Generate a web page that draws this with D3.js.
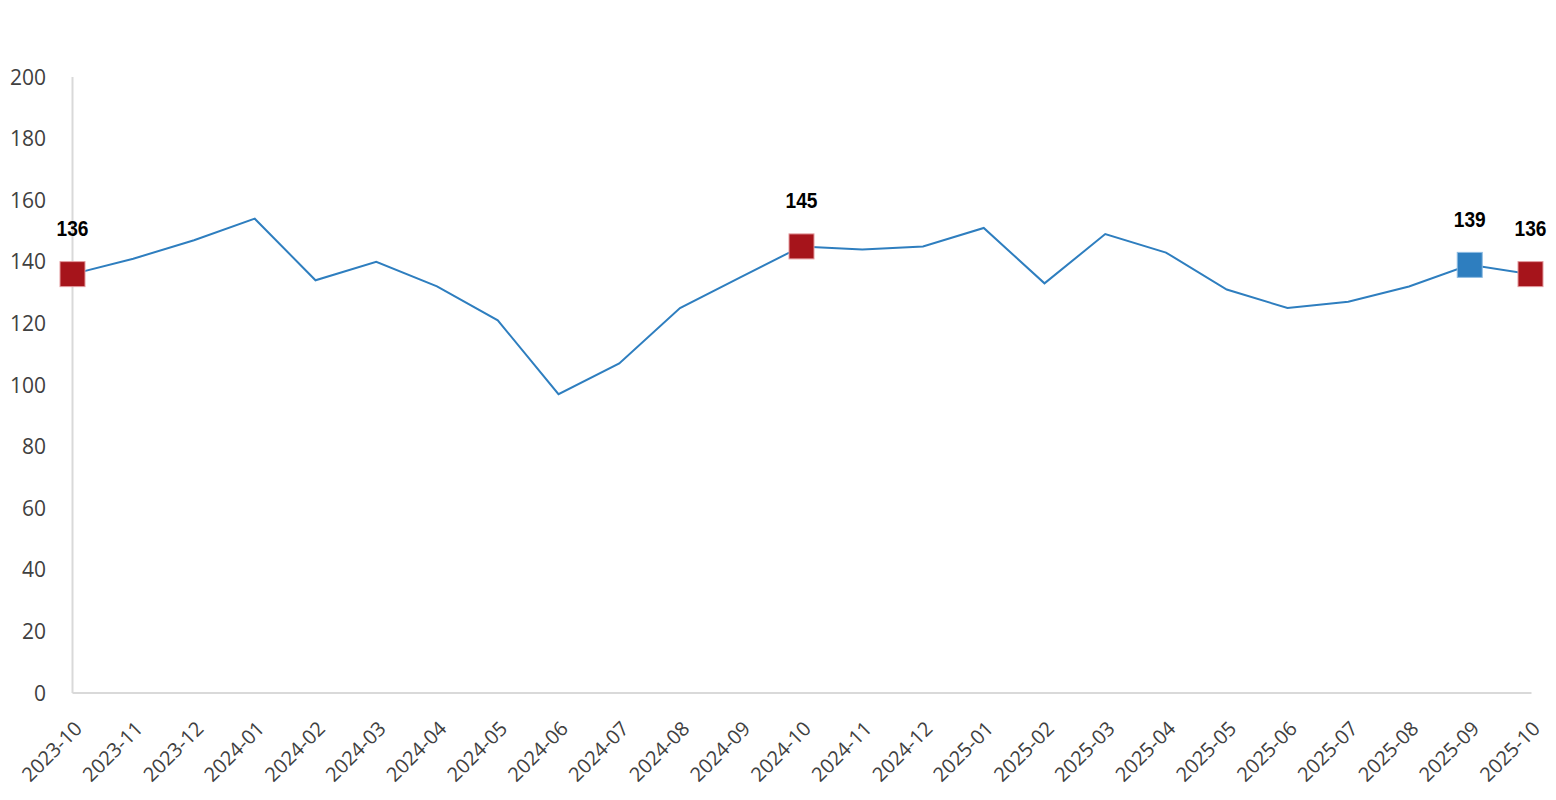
<!DOCTYPE html>
<html>
<head>
<meta charset="utf-8">
<script src="https://cdn.jsdelivr.net/npm/d3@7"></script>
<style>
  html, body { margin: 0; padding: 0; background: #fff; }
  svg { display: block; }
</style>
</head>
<body>
<svg id="chart" width="1556" height="800"></svg>
<script>
const categories = ["2023-10","2023-11","2023-12","2024-01","2024-02","2024-03","2024-04","2024-05","2024-06","2024-07","2024-08","2024-09","2024-10","2024-11","2024-12","2025-01","2025-02","2025-03","2025-04","2025-05","2025-06","2025-07","2025-08","2025-09","2025-10"];
const values = [136,141,147,154,134,140,132,121,97,107,125,135,145,144,145,151,133,149,143,131,125,127,132,139,136];
const yTicks = [0,20,40,60,80,100,120,140,160,180,200];
const highlights = [
  {cat: "2023-10", kind: "red"},
  {cat: "2024-10", kind: "red"},
  {cat: "2025-09", kind: "blue"},
  {cat: "2025-10", kind: "red"}
];

(function () {
const svg = d3.select("#chart");
const pLeft = 72.5, pRight = 1530.5, pTop = 77, pBottom = 693;

const x = d3.scalePoint().domain(categories).range([pLeft, pRight]).padding(0);
const y = d3.scaleLinear().domain([0, 200]).range([pBottom, pTop]);

// axes lines
svg.append("line").attr("x1", pLeft).attr("x2", pLeft).attr("y1", pTop).attr("y2", pBottom)
  .attr("stroke", "#d9d9d9").attr("stroke-width", 2);
svg.append("line").attr("x1", pLeft).attr("x2", pRight + 1).attr("y1", pBottom).attr("y2", pBottom)
  .attr("stroke", "#d9d9d9").attr("stroke-width", 2);

// y tick labels
svg.append("g").selectAll("text").data(yTicks).join("text")
  .attr("x", 46).attr("y", d => y(d)).attr("dy", "0.36em")
  .attr("text-anchor", "end")
  .attr("font-family", "'Open Sans', sans-serif").attr("font-size", 21)
  .attr("fill", "#404040").text(d => d);

// x tick labels
svg.append("g").selectAll("text").data(categories).join("text")
  .attr("transform", d => `translate(${x(d) + 1},${pBottom + 27}) rotate(-45)`)
  .attr("text-anchor", "end").attr("dy", "0.7em")
  .attr("font-family", "'Open Sans', sans-serif").attr("font-size", 20)
  .attr("fill", "#404040").text(d => d);

// line
const line = d3.line().x((d, i) => x(categories[i])).y(d => y(d));
svg.append("path").datum(values).attr("d", line)
  .attr("fill", "none").attr("stroke", "#2E7EBF").attr("stroke-width", 2);

// markers
const colors = {red: {fill: "#A6141B", stroke: "#E39A9E"}, blue: {fill: "#2E7EBF", stroke: "#8DBCE2"}};
const size = 25;
const hg = svg.append("g");
highlights.forEach(h => {
  const v = values[categories.indexOf(h.cat)];
  const cx = x(h.cat), cy = y(v);
  hg.append("rect").attr("x", cx - size / 2).attr("y", cy - size / 2)
    .attr("width", size).attr("height", size)
    .attr("fill", colors[h.kind].fill).attr("stroke", colors[h.kind].stroke).attr("stroke-width", 1);
  hg.append("text").attr("transform", `translate(${cx},${cy - 38}) scale(0.87,1)`)
    .attr("text-anchor", "middle")
    .attr("font-family", "'Liberation Sans', Arial, sans-serif").attr("font-weight", "bold")
    .attr("font-size", 22).attr("fill", "#000").text(v);
});
})();
</script>
</body>
</html>
